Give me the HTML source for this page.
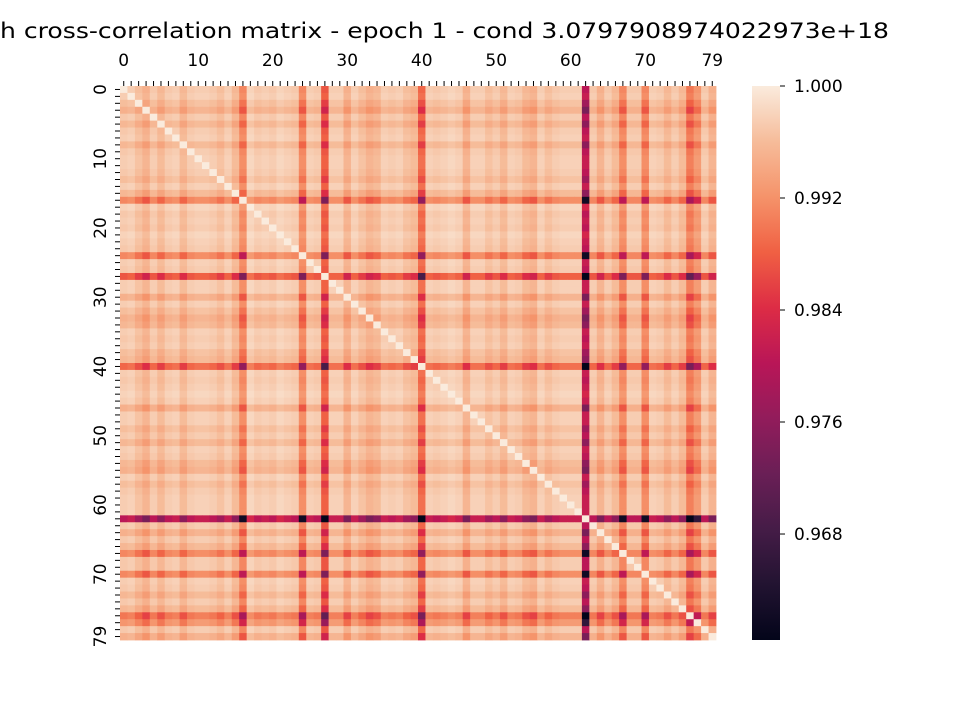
<!DOCTYPE html>
<html><head><meta charset="utf-8"><style>
body{margin:0;background:#fff;}
svg{display:block;font-family:"DejaVu Sans","Liberation Sans",sans-serif;}
</style></head><body>
<svg id="chart" width="960" height="720">
<text x="0" y="38" font-size="21" textLength="889" lengthAdjust="spacingAndGlyphs" fill="#000">h cross-correlation matrix - epoch 1 - cond 3.0797908974022973e+18</text>
<g id="cells"></g>
<g id="xaxis"></g>
<g id="yaxis"></g>
<defs><linearGradient id="cg" x1="0" y1="1" x2="0" y2="0"></linearGradient></defs>
<rect x="752" y="86" width="28" height="554" fill="url(#cg)"/>
<g id="cbaxis"></g>
</svg>
<script>
// per-variable decorrelation factor (index 0..79)
const dev = [0.0013,0.001,0.002,0.003,0.0013,0.0025,0.0013,0.001,0.0025,0.0013,
0.001,0.001,0.0013,0.002,0.001,0.0025,0.006,0.0006,0.0013,0.001,
0.0013,0.0006,0.001,0.0013,0.006,0.001,0.0013,0.009,0.001,0.001,
0.003,0.001,0.002,0.003,0.0025,0.001,0.0013,0.001,0.002,0.0025,
0.008,0.001,0.0013,0.001,0.0006,0.001,0.003,0.001,0.001,0.002,
0.0013,0.0025,0.001,0.0013,0.0025,0.003,0.001,0.002,0.0013,0.001,
0.001,0.001,0.0145,0.0013,0.003,0.0013,0.0025,0.006,0.0013,0.0013,
0.006,0.001,0.0013,0.0025,0.0013,0.0025,0.007,0.005,0.0013,0.003];
const xTickLabels = [0,10,20,30,40,50,60,70,79];
const yTickLabels = [0,10,20,30,40,50,60,70,79];
const cbTicks = [1.000,0.992,0.984,0.976,0.968];
const vmin = 0.96043, vmax = 1.0;
const NS="http://www.w3.org/2000/svg";
const X0=120,X1=716,Y0=86,Y1=640,N=dev.length;
const cw=(X1-X0)/N, ch=(Y1-Y0)/N;
const xs=i=>X0+i*cw, ys=i=>Y0+i*ch;
const stops=[[3,5,26],[34,19,49],[69,28,71],[106,31,86],[146,28,91],[185,22,87],[221,44,69],[240,96,67],[245,147,106],[246,188,154],[250,235,221]];
function cmap(v){let t=(v-vmin)/(vmax-vmin);t=Math.max(0,Math.min(1,t))*10;const i=Math.min(9,Math.floor(t)),f=t-i;const a=stops[i],b=stops[i+1];return `rgb(${a.map((c,k)=>Math.round(c+(b[k]-c)*f)).join(',')})`;}
function corr(i,j){if(i===j)return 1;return 1-dev[i]-dev[j]-200*dev[i]*dev[j];}
const cells=document.getElementById('cells');
for(let i=0;i<N;i++)for(let j=0;j<N;j++){
 const r=document.createElementNS(NS,'rect');
 r.setAttribute('x',xs(j).toFixed(2));r.setAttribute('y',ys(i).toFixed(2));
 r.setAttribute('width',(cw+0.4).toFixed(2));r.setAttribute('height',(ch+0.4).toFixed(2));
 r.setAttribute('fill',cmap(corr(i,j)));
 
 
 cells.appendChild(r);
}
const xa=document.getElementById('xaxis'),ya=document.getElementById('yaxis');
for(let i=0;i<N;i++){
 const t=document.createElementNS(NS,'line');
 t.setAttribute('x1',xs(i+0.5));t.setAttribute('x2',xs(i+0.5));t.setAttribute('y1',Y0-5);t.setAttribute('y2',Y0);t.setAttribute('stroke','#000');
 
 
 xa.appendChild(t);
 const u=document.createElementNS(NS,'line');
 u.setAttribute('y1',ys(i+0.5));u.setAttribute('y2',ys(i+0.5));u.setAttribute('x1',X0-5);u.setAttribute('x2',X0);u.setAttribute('stroke','#000');
 
 
 ya.appendChild(u);
}
xTickLabels.forEach(v=>{
 const t=document.createElementNS(NS,'text');
 t.setAttribute('x',xs(v+0.5));t.setAttribute('y',Y0-20);t.setAttribute('text-anchor','middle');t.setAttribute('font-size','17');
 t.textContent=v;
 
 
 xa.appendChild(t);
});
yTickLabels.forEach(v=>{
 const t=document.createElementNS(NS,'text');
 const x=X0-14,y=ys(v+0.5);
 t.setAttribute('x',x);t.setAttribute('y',y);t.setAttribute('text-anchor','middle');t.setAttribute('font-size','17');
 t.setAttribute('transform',`rotate(-90 ${x} ${y})`);
 t.textContent=v;
 
 
 ya.appendChild(t);
});
const g=document.getElementById('cg');
stops.forEach((s,k)=>{const st=document.createElementNS(NS,'stop');st.setAttribute('offset',k/10);st.setAttribute('stop-color',`rgb(${s.join(',')})`);g.appendChild(st);});
const cb=document.getElementById('cbaxis');
cbTicks.forEach(v=>{
 const y=Y1-(v-vmin)/(vmax-vmin)*(Y1-Y0);
 const l=document.createElementNS(NS,'line');
 l.setAttribute('x1',780);l.setAttribute('x2',785);l.setAttribute('y1',y);l.setAttribute('y2',y);l.setAttribute('stroke','#000');
 
 
 cb.appendChild(l);
 const t=document.createElementNS(NS,'text');
 t.setAttribute('x',794);t.setAttribute('y',y+6);t.setAttribute('font-size','17');
 t.textContent=v.toFixed(3);
 
 
 cb.appendChild(t);
});
</script>
</body></html>
